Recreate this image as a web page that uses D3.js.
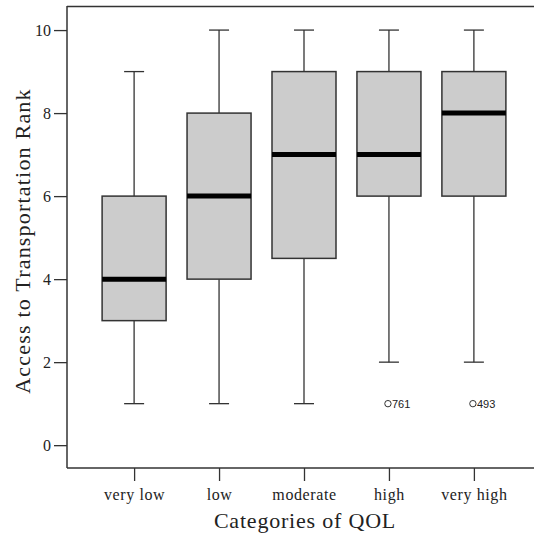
<!DOCTYPE html>
<html>
<head>
<meta charset="utf-8">
<script src="https://cdn.jsdelivr.net/npm/d3@7"></script>
<style>
  body { margin: 0; background: #fff; }
  svg { display: block; }
</style>
</head>
<body>
<div id="chart"></div>
<script>
// data
const categories = ["very low", "low", "moderate", "high", "very high"];
const mins    = [1, 1, 1, 2, 2];
const q1s     = [3, 4, 4.5, 6, 6];
const medians = [4, 6, 7, 7, 8];
const q3s     = [6, 8, 9, 9, 9];
const maxs    = [9, 10, 10, 10, 10];
const outliers = [
  { cat: "high", value: 1, label: "761" },
  { cat: "very high", value: 1, label: "493" }
];
const y_ticks = [0, 2, 4, 6, 8, 10];

const width = 534, height = 535;
const plot_left = 67, plot_top = 6, plot_bottom = 468;
const serif = "Liberation Serif, Times New Roman, serif";

let svg = d3.select("#chart").append("svg")
  .attr("width", width)
  .attr("height", height);

let x = d3.scalePoint()
  .domain(categories)
  .range([plot_left, 541])
  .padding(0.79);

let y = d3.scaleLinear()
  .domain([-0.55, 10.58])
  .range([plot_bottom, plot_top]);

let boxes = categories.map((c, i) => ({
  cat: c, min: mins[i], q1: q1s[i], med: medians[i], q3: q3s[i], max: maxs[i]
}));

const box_half = 32;
const cap_half = 10;
const dark = "#333";

// frame top line
svg.append("line")
  .attr("x1", plot_left).attr("x2", width)
  .attr("y1", plot_top + 0.5).attr("y2", plot_top + 0.5)
  .attr("stroke", dark).attr("stroke-width", 1.5);

let g = svg.selectAll(".box").data(boxes).enter()
  .append("g").attr("class", "box");

// whiskers
g.append("line")
  .attr("x1", (d) => x(d.cat)).attr("x2", (d) => x(d.cat))
  .attr("y1", (d) => y(d.max)).attr("y2", (d) => y(d.q3))
  .attr("stroke", dark).attr("stroke-width", 1.3);
g.append("line")
  .attr("x1", (d) => x(d.cat)).attr("x2", (d) => x(d.cat))
  .attr("y1", (d) => y(d.q1)).attr("y2", (d) => y(d.min))
  .attr("stroke", dark).attr("stroke-width", 1.3);
g.append("line")
  .attr("x1", (d) => x(d.cat) - cap_half).attr("x2", (d) => x(d.cat) + cap_half)
  .attr("y1", (d) => y(d.max)).attr("y2", (d) => y(d.max))
  .attr("stroke", dark).attr("stroke-width", 1.3);
g.append("line")
  .attr("x1", (d) => x(d.cat) - cap_half).attr("x2", (d) => x(d.cat) + cap_half)
  .attr("y1", (d) => y(d.min)).attr("y2", (d) => y(d.min))
  .attr("stroke", dark).attr("stroke-width", 1.3);

// boxes
g.append("rect")
  .attr("x", (d) => x(d.cat) - box_half)
  .attr("width", box_half * 2)
  .attr("y", (d) => y(d.q3))
  .attr("height", (d) => y(d.q1) - y(d.q3))
  .attr("fill", "#cccccc")
  .attr("stroke", dark).attr("stroke-width", 1.5);

// medians
g.append("line")
  .attr("x1", (d) => x(d.cat) - box_half).attr("x2", (d) => x(d.cat) + box_half)
  .attr("y1", (d) => y(d.med)).attr("y2", (d) => y(d.med))
  .attr("stroke", "#000").attr("stroke-width", 5);

// outliers
let o = svg.selectAll(".outlier").data(outliers).enter()
  .append("g").attr("class", "outlier");
o.append("circle")
  .attr("cx", (d) => x(d.cat) - 1)
  .attr("cy", (d) => y(d.value))
  .attr("r", 3.2)
  .attr("fill", "none").attr("stroke", dark).attr("stroke-width", 1);
o.append("text")
  .attr("x", (d) => x(d.cat) + 3)
  .attr("y", (d) => y(d.value) + 4)
  .attr("font-family", "Liberation Sans, Arial, sans-serif")
  .attr("font-size", 11)
  .attr("fill", "#222")
  .text((d) => d.label);

// y axis
let y_axis = svg.append("g")
  .attr("transform", "translate(" + plot_left + ",0)")
  .call(d3.axisLeft(y).tickValues(y_ticks).tickSize(13).tickPadding(3).tickFormat(d3.format("d")));
y_axis.select(".domain").remove();
y_axis.selectAll(".tick text").attr("font-size", 16);
svg.append("line")
  .attr("x1", plot_left).attr("x2", plot_left)
  .attr("y1", plot_top).attr("y2", plot_bottom)
  .attr("stroke", dark).attr("stroke-width", 1.5);

// x axis
let x_axis = svg.append("g")
  .attr("transform", "translate(0," + plot_bottom + ")")
  .call(d3.axisBottom(x).tickSize(13).tickPadding(8));
x_axis.select(".domain").remove();
x_axis.selectAll(".tick text").attr("font-size", 16).attr("letter-spacing", 0.6);
svg.append("line")
  .attr("x1", plot_left).attr("x2", width)
  .attr("y1", plot_bottom).attr("y2", plot_bottom)
  .attr("stroke", dark).attr("stroke-width", 1.5);

svg.selectAll(".tick line").attr("stroke", dark).attr("stroke-width", 1.3);
svg.selectAll(".tick text")
  .attr("font-family", serif)
  .attr("fill", "#222");

// titles
svg.append("text")
  .attr("x", 305)
  .attr("y", 528)
  .attr("text-anchor", "middle")
  .attr("font-family", serif)
  .attr("font-size", 22)
  .attr("letter-spacing", 0.8)
  .attr("fill", "#222")
  .text("Categories of QOL");

svg.append("text")
  .attr("transform", "translate(30,241) rotate(-90)")
  .attr("text-anchor", "middle")
  .attr("font-family", serif)
  .attr("font-size", 22)
  .attr("letter-spacing", 1.2)
  .attr("fill", "#222")
  .text("Access to Transportation Rank");
</script>
</body>
</html>
